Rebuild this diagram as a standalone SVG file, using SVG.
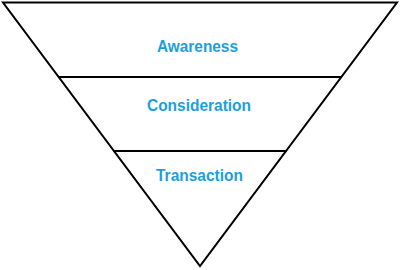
<svg xmlns="http://www.w3.org/2000/svg" width="400" height="270" viewBox="0 0 400 270">
<style>
.edge{stroke:#000;stroke-width:2;fill:none;stroke-linecap:round;stroke-linejoin:miter}
.lbl{font-family:"Liberation Sans",Arial,sans-serif;font-weight:bold;font-size:16.5px;fill:#1a9fe0;text-anchor:middle}
</style>
<rect width="400" height="270" fill="#fff"/>
<g id="connectors">
<path class="edge" d="M3 2.5 L397 2.5 L200 266 Z"/>
<line class="edge" x1="59" y1="77" x2="341" y2="77"/>
<line class="edge" x1="114" y1="151" x2="286" y2="151"/>
</g>
<g id="awareness"><text class="lbl" x="197.5" y="52" textLength="81" lengthAdjust="spacingAndGlyphs">Awareness</text></g>
<g id="consideration"><text class="lbl" x="199" y="111" textLength="104" lengthAdjust="spacingAndGlyphs">Consideration</text></g>
<g id="transaction"><text class="lbl" x="199.5" y="181" textLength="87" lengthAdjust="spacingAndGlyphs">Transaction</text></g>
</svg>
